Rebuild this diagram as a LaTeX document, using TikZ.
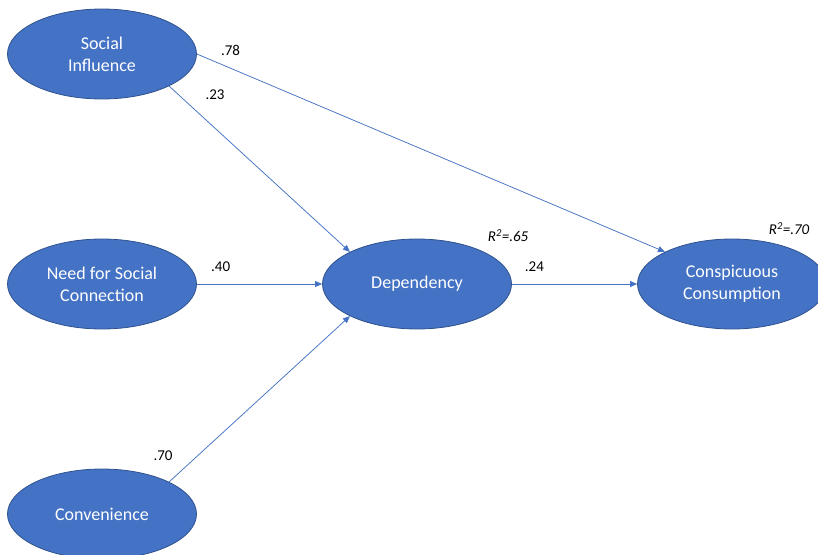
\documentclass[tikz,border=0pt]{standalone}
\usepackage{fontspec}
\setmainfont{Carlito}
\usetikzlibrary{shapes.geometric, positioning, arrows.meta}
\definecolor{latentblue}{HTML}{4472C4}
\definecolor{latentedge}{HTML}{2F528F}

\begin{document}
\begin{tikzpicture}[
    x=1pt, y=1pt,
    node distance=230pt and 315pt,
    on grid,
    latent/.style={ellipse, fill=latentblue, draw=latentedge, line width=0.8pt, minimum width=189pt, minimum height=90pt, inner sep=0pt, text=white, align=center, font=\fontsize{18}{22}\selectfont},
    coef/.style={inner sep=0pt, text=black, font=\fontsize{15}{18}\selectfont},
    rsq/.style={inner sep=0pt, text=black, font=\fontsize{15}{18}\selectfont\itshape},
    every edge/.append style={draw=latentblue, line width=0.75pt, -{Triangle[length=7pt,width=6pt]}}
]
   \useasboundingbox (0,0) rectangle (818,-554);
   \clip (0,0) rectangle (818,-554);

   % Constructs
   \node[latent] (need) at (102,-284) {Need for Social\\Connection};
   \node[latent] (si) [above=of need] {Social\\Influence};
   \node[latent] (conv) [below=of need] {Convenience};
   \node[latent] (dep) [right=of need] {Dependency};
   \node[latent] (cc) [right=of dep] {Conspicuous\\Consumption};

   % Explained variance
   \node[rsq] (dep-r2) [above=10pt of dep.north east, xshift=24pt] {R\textsuperscript{2}=.65};
   \node[rsq] (cc-r2) [above=17pt of cc.north east, xshift=-10pt] {R\textsuperscript{2}=.70};

   % Paths
   \path
   (si.east) edge node[coef, pos=0.072, above=12pt] {.78} (cc.north west)
   (si.south east) edge node[coef, pos=0.05, right=27pt] {.23} (dep.north west)
   (need) edge node[coef, pos=0.19, above=12pt] {.40} (dep)
   (conv.north east) edge node[coef, at start, above=21pt, xshift=-6pt] {.70} (dep.south west)
   (dep) edge node[coef, pos=0.18, above=12pt] {.24} (cc);
\end{tikzpicture}
\end{document}
